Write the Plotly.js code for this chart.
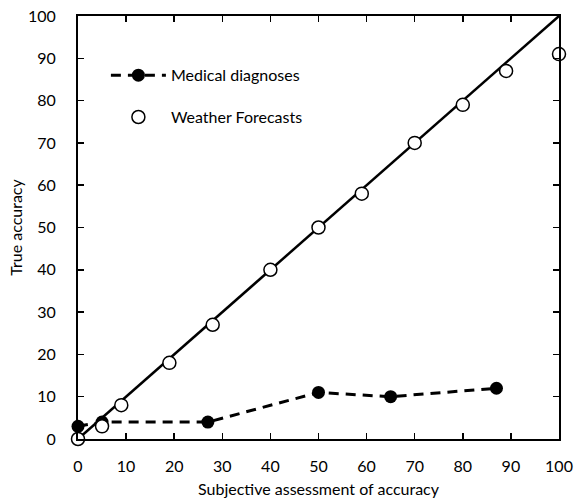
<!DOCTYPE html>
<html>
<head>
<meta charset="utf-8">
<script src="https://cdn.plot.ly/plotly-3.0.1.min.js"></script>
<style>html,body{margin:0;padding:0;background:#fff;}#chart{width:578px;height:503px;}</style>
</head>
<body>
<div id="chart"></div>
<script>
// Data
const medicalX = [0, 5, 27, 50, 65, 87];
const medicalY = [3, 4, 4, 11, 10, 12];
const weatherX = [0, 5, 9, 19, 28, 40, 50, 59, 70, 80, 89, 100];
const weatherY = [0, 3, 8, 18, 27, 40, 50, 58, 70, 79, 87, 91];
const diagonalX = [0, 100];
const diagonalY = [0, 100];
const tickVals = [0, 10, 20, 30, 40, 50, 60, 70, 80, 90, 100];

const traces = [
  {
    x: diagonalX, y: diagonalY, mode: 'lines', showlegend: false,
    line: {color: '#000', width: 2.5}, hoverinfo: 'skip', cliponaxis: false
  },
  {
    x: medicalX, y: medicalY, mode: 'lines+markers', name: 'Medical diagnoses',
    legendgroup: 'a',
    line: {color: '#000', width: 3, dash: '10px,7px'},
    marker: {symbol: 'circle', size: 13, color: '#000'}, cliponaxis: false
  },
  {
    x: weatherX, y: weatherY, mode: 'markers', name: 'Weather Forecasts',
    legendgroup: 'b',
    marker: {symbol: 'circle', size: 13, color: '#fff', line: {color: '#000', width: 1.5}},
    cliponaxis: false
  }
];

const axisCommon = {
  range: [0, 100], tickvals: tickVals, ticks: 'inside', ticklen: 6, tickwidth: 1.5,
  tickcolor: '#000', showline: true, linecolor: '#000', linewidth: 2, mirror: 'ticks',
  showgrid: false, zeroline: false, tickfont: {size: 16, color: '#000'}
};

const layout = {
  width: 578, height: 503,
  margin: {l: 78, r: 19, t: 15.5, b: 63.5},
  paper_bgcolor: '#fff', plot_bgcolor: '#fff',
  font: {family: 'Lato, "Open Sans", sans-serif', color: '#000', size: 16},
  xaxis: Object.assign({}, axisCommon, {
    ticklabelstandoff: 12,
    title: {text: 'Subjective assessment of accuracy', font: {size: 16}, standoff: 10}
  }),
  yaxis: Object.assign({}, axisCommon, {
    ticklabelstandoff: 17,
    title: {text: 'True accuracy', font: {size: 16}, standoff: 1}
  }),
  legend: {
    x: 0.058, y: 0.90, xanchor: 'left', yanchor: 'top', bgcolor: 'rgba(0,0,0,0)',
    font: {size: 16}, tracegroupgap: 18, itemwidth: 55
  }
};

Plotly.newPlot('chart', traces, layout, {displayModeBar: false, staticPlot: true});
</script>
</body>
</html>
